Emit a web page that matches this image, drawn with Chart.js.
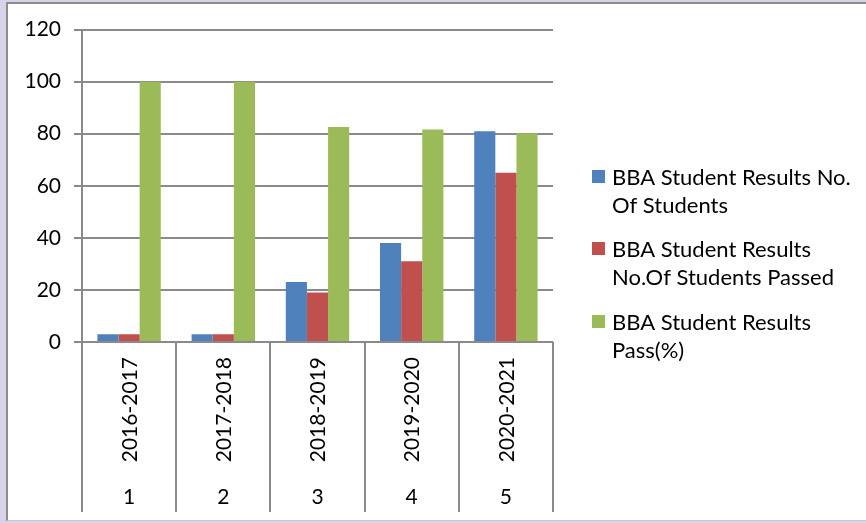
<!DOCTYPE html>
<html>
<head>
<meta charset="utf-8">
<script src="https://cdn.jsdelivr.net/npm/chart.js@4.4.0/dist/chart.umd.min.js"></script>
<style>
  html, body { margin: 0; padding: 0; }
  body { width: 866px; height: 523px; background: #d9d3e9; position: relative; overflow: hidden; }
  #frame {
    position: absolute; left: 6px; top: 2px; width: 860px; height: 519px;
    background: #fff; border-left: 2px solid #8c8c8c; border-top: 2px solid #8c8c8c;
    border-bottom: 1px solid #c8c8c8; box-sizing: border-box;
  }
  #wrap { position: absolute; left: 0; top: 0; width: 858px; height: 518px; }
</style>
</head>
<body>
<div id="frame"><div id="wrap"><canvas id="chart"></canvas></div></div>
<script>
const categories = ['2016-2017', '2017-2018', '2018-2019', '2019-2020', '2020-2021'];
const serialNumbers = ['1', '2', '3', '4', '5'];
const totalStudents = [3, 3, 23, 38, 81];
const passedStudents = [3, 3, 19, 31, 65];
const passPercent = [100, 100, 82.6, 81.6, 80.2];

const seriesNames = [
  'BBA Student Results No. Of Students',
  'BBA Student Results No.Of Students Passed',
  'BBA Student Results Pass(%)'
];
const legendLines = [
  ['BBA Student Results No.', 'Of Students'],
  ['BBA Student Results', 'No.Of Students Passed'],
  ['BBA Student Results', 'Pass(%)']
];

const colors = ['#4f81bd', '#c0504d', '#9bbb59'];
const gridColor = '#8a8a8a';
const textColor = '#000';
const font = 'Lato';

// two-level category axis + wrapped legend, drawn from the x scale
const excelAxis = {
  id: 'excelAxis',
  afterDraw(chart) {
    const c = chart.ctx;
    const x = chart.scales.x;
    const area = chart.chartArea;
    const step = (area.right - area.left) / categories.length;
    const bottom = area.bottom + 170;

    c.save();
    c.strokeStyle = gridColor;
    c.lineWidth = 2;
    for (let i = 0; i <= categories.length; i++) {
      const px = Math.round(area.left + i * step);
      c.beginPath();
      c.moveTo(px, area.bottom);
      c.lineTo(px, bottom);
      c.stroke();
    }

    c.fillStyle = textColor;
    c.font = '21px ' + font;
    categories.forEach((cat, i) => {
      const cx = x.getPixelForValue(i);
      c.save();
      c.translate(cx + 1, area.bottom + 15);
      c.rotate(-Math.PI / 2);
      c.textAlign = 'right';
      c.textBaseline = 'middle';
      c.fillText(cat, 0, 0);
      c.restore();

      c.textAlign = 'center';
      c.textBaseline = 'middle';
      c.fillText(serialNumbers[i], cx, area.bottom + 155);
    });

    // legend
    const lx = 584, ty = [181, 253, 326];
    c.font = '22px ' + font;
    c.textAlign = 'left';
    c.textBaseline = 'alphabetic';
    legendLines.forEach((lines, i) => {
      c.fillStyle = colors[i];
      c.fillRect(lx, ty[i] - 15, 13, 13);
      c.fillStyle = textColor;
      lines.forEach((ln, j) => c.fillText(ln, lx + 20, ty[i] + j * 28));
    });
    c.restore();
  }
};

new Chart(document.getElementById('chart'), {
  type: 'bar',
  data: {
    labels: categories,
    datasets: [
      { label: seriesNames[0], data: totalStudents, backgroundColor: colors[0] },
      { label: seriesNames[1], data: passedStudents, backgroundColor: colors[1] },
      { label: seriesNames[2], data: passPercent, backgroundColor: colors[2] }
    ]
  },
  options: {
    responsive: true,
    maintainAspectRatio: false,
    animation: false,
    layout: { padding: { top: 25, right: 313, bottom: 180, left: 0 } },
    datasets: { bar: { categoryPercentage: 0.673, barPercentage: 1 } },
    plugins: { legend: { display: false }, tooltip: { enabled: false } },
    scales: {
      x: { display: false },
      y: {
        min: 0,
        max: 120,
        ticks: { stepSize: 20, color: textColor, font: { family: font, size: 21 }, padding: 13 },
        grid: { color: gridColor, lineWidth: 2, tickLength: 8 },
        border: { color: gridColor, width: 2 },
        afterFit(scale) { scale.width = 74; }
      }
    }
  },
  plugins: [excelAxis]
});
</script>
</body>
</html>
